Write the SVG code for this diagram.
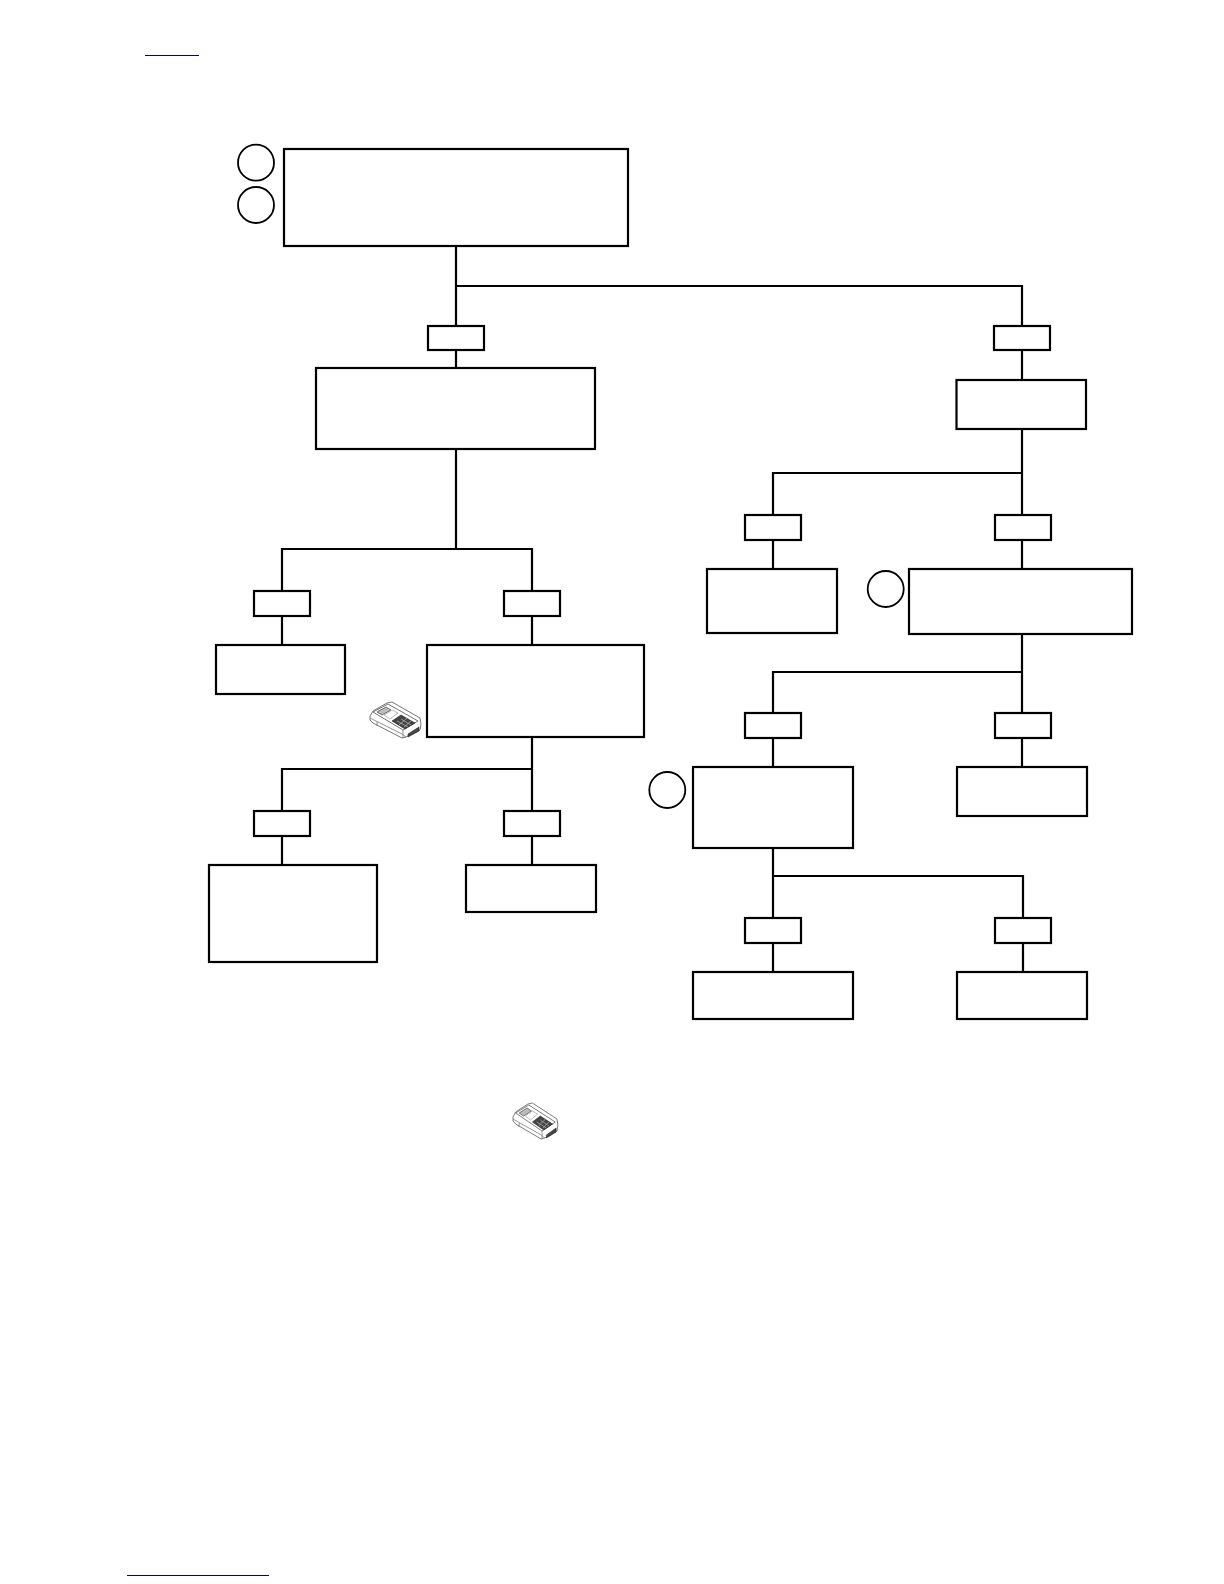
<svg xmlns="http://www.w3.org/2000/svg" width="1224" height="1584" viewBox="0 0 1224 1584">
<style>
.n{fill:#fff;stroke:#000;stroke-width:2.200}
.o{fill:#fff;stroke:#000;stroke-width:1.800}
.c{fill:none;stroke:#000;stroke-width:2.200;stroke-linejoin:miter}
.l{fill:none;stroke:#000088;stroke-width:1}
.i1{fill:#fff;stroke:#666;stroke-width:.9}
.i2{fill:#bbb;stroke:#555;stroke-width:.8}
.i3{fill:#444;stroke:#222;stroke-width:.6}
</style>
<defs>
<g id="device">
<path class="i1" d="M0 14 L3 9 L17 1 L22 0 L50 16 L51 22 L50 28 L36 35 L32 36 L3 21 L0 18 Z"/>
<path class="i1" d="M3 10 L18 2 L48 19 L33 28 Z"/>
<path class="i2" d="M7 10 L16 5 L21 8 L12 13 Z"/>
<path fill="#fff" stroke="#999" stroke-width=".7" d="M14 13 L22 8 L28 11 L20 17 Z"/>
<path class="i3" d="M22 19 L31 13 L45 21 L35 27 Z"/>
<path fill="none" stroke="#bbb" stroke-width=".7" d="M27 19 L38 25 M31 17 L41 23 M29 23 L37 16 M34 25 L41 19"/>
<path class="i3" d="M38 32 L49 25 L49 29 L38 35 Z"/>
<path fill="none" stroke="#777" stroke-width=".8" d="M0 16 L32 32 L36 35 M7 20 L7 24 M33 28 L33 36"/>
</g>
</defs>
<g id="connectors">
<path class="c" d="M456 246V326M456 350V368M456 286H1022V326M1022 350V380M1022 429V515M1022 473H773V515M773 540V569M1022 540V569"/>
<path class="c" d="M456 449V549M282 591V549H532V591M282 616V645M532 616V645"/>
<path class="c" d="M532 737V811M532 769H282V811M282 836V865M532 836V865"/>
<path class="c" d="M1022 634V713M1022 672H773V713M773 738V767M1022 738V767"/>
<path class="c" d="M773 848V918M773 876H1023V918M773 943V972M1023 943V972"/>
</g>
<g id="n1"><rect class="n" x="284" y="149" width="344" height="97"/></g>
<g id="n2"><rect class="n" x="316" y="368" width="279" height="81"/></g>
<g id="n3"><rect class="n" x="956.500" y="380" width="129.500" height="49"/></g>
<g id="n4"><rect class="n" x="707" y="569" width="130" height="64"/></g>
<g id="n5"><rect class="n" x="909" y="569" width="223" height="65"/></g>
<g id="n6"><rect class="n" x="216" y="645" width="129" height="49"/></g>
<g id="n7"><rect class="n" x="427" y="645" width="217" height="92"/></g>
<g id="n8"><rect class="n" x="693" y="767" width="160" height="81"/></g>
<g id="n9"><rect class="n" x="957" y="767" width="130" height="49"/></g>
<g id="n10"><rect class="n" x="209" y="865" width="168" height="97"/></g>
<g id="n11"><rect class="n" x="466" y="865" width="130" height="47"/></g>
<g id="n12"><rect class="n" x="693" y="972" width="160" height="47"/></g>
<g id="n13"><rect class="n" x="957" y="972" width="130" height="47"/></g>
<g id="s1"><rect class="n" x="428" y="326" width="56" height="24"/></g>
<g id="s2"><rect class="n" x="994" y="326" width="56" height="24"/></g>
<g id="s3"><rect class="n" x="745" y="515" width="56" height="25"/></g>
<g id="s4"><rect class="n" x="995" y="515" width="56" height="25"/></g>
<g id="s5"><rect class="n" x="254" y="591" width="56" height="25"/></g>
<g id="s6"><rect class="n" x="504" y="591" width="56" height="25"/></g>
<g id="s7"><rect class="n" x="745" y="713" width="56" height="25"/></g>
<g id="s8"><rect class="n" x="995" y="713" width="56" height="25"/></g>
<g id="s9"><rect class="n" x="254" y="811" width="56" height="25"/></g>
<g id="s10"><rect class="n" x="504" y="811" width="56" height="25"/></g>
<g id="s11"><rect class="n" x="745" y="918" width="56" height="25"/></g>
<g id="s12"><rect class="n" x="995" y="918" width="56" height="25"/></g>
<g id="c1"><circle class="o" cx="256" cy="162.700" r="18"/></g>
<g id="c2"><circle class="o" cx="256" cy="205" r="18"/></g>
<g id="c3"><circle class="o" cx="885.700" cy="589" r="18"/></g>
<g id="c4"><circle class="o" cx="667.300" cy="790" r="18"/></g>
<g id="icon1"><use href="#device" x="370" y="702"/></g>
<g id="icon2"><use href="#device" transform="translate(513 1103) scale(.88 1)"/></g>
<g id="links">
<path class="l" d="M145 55.500H199M127 1575.500H269"/>
</g>
</svg>
